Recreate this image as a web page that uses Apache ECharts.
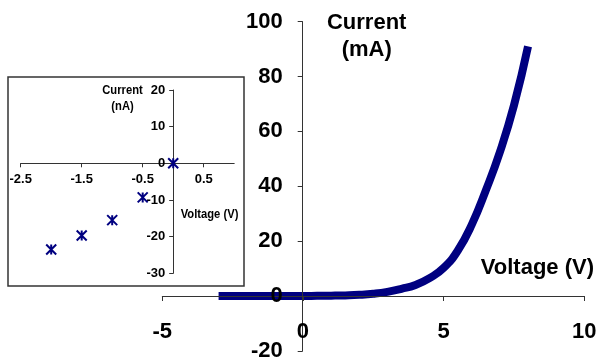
<!DOCTYPE html>
<html><head><meta charset="utf-8">
<script src="https://cdn.jsdelivr.net/npm/echarts@6/dist/echarts.min.js"></script>
<style>html,body{margin:0;padding:0;background:#fff}#c{width:599px;height:360px}</style>
</head><body><div id="c"></div>
<script>
// Main chart: forward diode curve (Voltage V, Current mA)
const mainVoltage = [-3,-2.5,-2,-1.5,-1,-0.5,0,0.5,1,1.5,2,2.5,3,3.5,4,4.5,5,5.5,6,6.5,7,7.5,8];
const mainCurrent = [0,0,0,0,0,0,0,0.05,0.1,0.2,0.4,0.8,1.5,2.6,4.0,6.5,10.2,16.5,26,38.5,52.5,69.5,91];
// Inset: reverse leakage (Voltage V, Current nA)
const insetVoltage = [-2,-1.5,-1,-0.5,0];
const insetCurrent = [-23.5,-19.7,-15.5,-9.3,0];
// Tick values
const mainXTicks = [-5,0,5,10];
const mainYTicks = [-20,0,20,40,60,80,100];
const insetXTicks = [-2.5,-1.5,-0.5,0.5];
const insetYTicks = [-30,-20,-10,0,10,20];

const AX = '#333';
const mainFont = '"Liberation Sans", Arial, sans-serif';

const chart = echarts.init(document.getElementById('c'), null, {renderer:'canvas'});
const starPath = 'path://M0,0L10,10M10,0L0,10M5,0L5,10';

// grid geometry
const G0 = {left:162.3, top:21.7, width:422, height:329.1};
const G1 = {left:20.7, top:90, width:213.5, height:183.3};

chart.setOption({
  animation: false,
  backgroundColor: '#fff',
  grid: [
    Object.assign({containLabel:false, outerBoundsMode:'none'}, G0),
    Object.assign({containLabel:false, outerBoundsMode:'none', z:5}, G1)
  ],
  xAxis: [
    {type:'value', gridIndex:0, min:-5, max:10, interval:5, position:'bottom', offset:-54.8, z:3,
     axisLine:{show:true, onZero:false, lineStyle:{color:AX, width:1}},
     axisTick:{show:true, inside:false, length:5, lineStyle:{color:AX, width:1}, customValues: mainXTicks},
     axisLabel:{show:true, margin:25, color:'#000', fontFamily:mainFont, fontWeight:'bold', fontSize:22, lineHeight:22, customValues: mainXTicks, hideOverlap:false},
     splitLine:{show:false}},
    {type:'value', gridIndex:1, min:-2.5, max:1, interval:0.5, z:5, position:'bottom', offset:-110,
     axisLine:{show:true, onZero:false, lineStyle:{color:AX, width:1}},
     axisTick:{show:true, inside:false, length:4, lineStyle:{color:AX, width:1}, customValues: insetXTicks},
     axisLabel:{show:true, margin:10, color:'#000', fontFamily:mainFont, fontWeight:'bold', fontSize:13, lineHeight:13, customValues: insetXTicks, hideOverlap:false},
     splitLine:{show:false}}
  ],
  yAxis: [
    {type:'value', gridIndex:0, min:-20, max:100, interval:20, position:'left', offset:-140.4, z:3,
     axisLine:{show:true, onZero:false, lineStyle:{color:AX, width:1}},
     axisTick:{show:true, inside:false, length:5, lineStyle:{color:AX, width:1}, customValues: mainYTicks},
     axisLabel:{show:true, margin:20, color:'#000', fontFamily:mainFont, fontWeight:'bold', fontSize:22, customValues: mainYTicks, hideOverlap:false},
     splitLine:{show:false}},
    {type:'value', gridIndex:1, min:-30, max:20, interval:10, z:5, position:'left', offset:-152.5,
     axisLine:{show:true, onZero:false, lineStyle:{color:AX, width:1}},
     axisTick:{show:true, inside:false, length:4, lineStyle:{color:AX, width:1}, customValues: insetYTicks},
     axisLabel:{show:true, margin:8, color:'#000', fontFamily:mainFont, fontWeight:'bold', fontSize:13, customValues: insetYTicks, hideOverlap:false},
     splitLine:{show:false}}
  ],
  series: [
    {type:'line', xAxisIndex:0, yAxisIndex:0, smooth:0.5, showSymbol:false, symbol:'none', z:2,
     lineStyle:{color:'#000080', width:8}, clip:false,
     data: mainVoltage.map((v,i)=>[v, mainCurrent[i]])},
    {type:'scatter', xAxisIndex:1, yAxisIndex:1, z:6, symbol: starPath, symbolSize:10,
     itemStyle:{color:'rgba(0,0,0,0)', borderColor:'#000080', borderWidth:2, opacity:1},
     data: insetVoltage.map((v,i)=>[v, insetCurrent[i]])}
  ],
  graphic: [
    {type:'rect', z:1, shape:{x:8, y:77, width:236, height:209}, style:{fill:'#fff', stroke:'#333', lineWidth:1.5}},
    {type:'text', z:10, x:366.7, y:36.7, style:{text:'Current\n(mA)', font:'bold 22px ' + mainFont, fill:'#000', align:'center', verticalAlign:'middle', lineHeight:27}},
    {type:'text', z:10, x:594, y:267.5, style:{text:'Voltage (V)', font:'bold 22px ' + mainFont, fill:'#000', align:'right', verticalAlign:'middle'}},
    {type:'text', z:10, x:122.5, y:98.5, scaleX:0.83, style:{text:'Current\n(nA)', font:'bold 13.5px ' + mainFont, fill:'#000', align:'center', verticalAlign:'middle', lineHeight:16}},
    {type:'text', z:10, x:180.7, y:214, scaleX:0.83, style:{text:'Voltage (V)', font:'bold 13.5px ' + mainFont, fill:'#000', align:'left', verticalAlign:'middle'}}
  ]
});
</script></body></html>
